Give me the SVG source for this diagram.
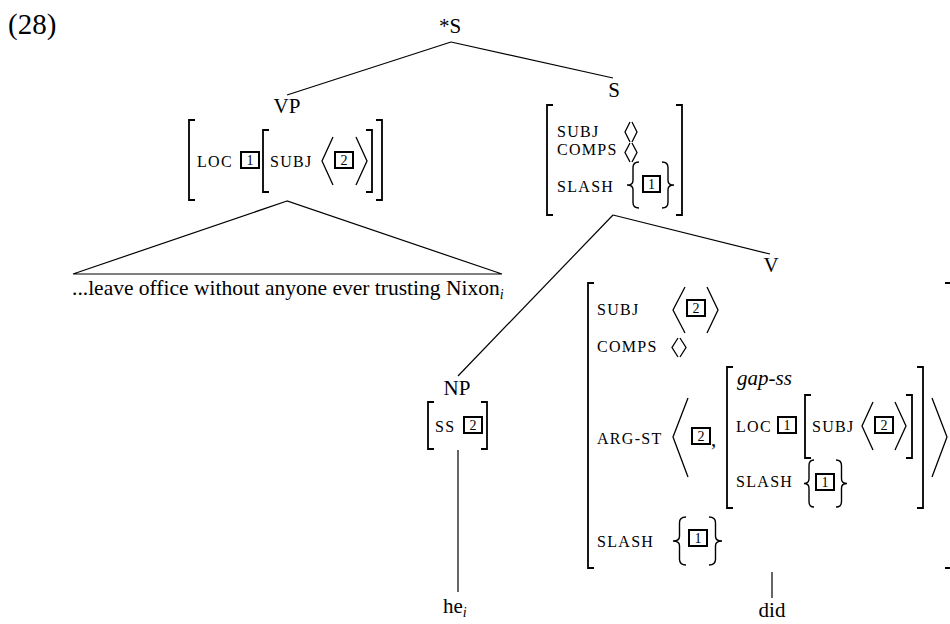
<svg xmlns="http://www.w3.org/2000/svg" width="950" height="624" viewBox="0 0 950 624">
<style>
  text { font-family: "Liberation Serif", "Times New Roman", serif; fill: #000; }
  .lbl { font-size: 21px; }
  .yield { font-size: 21.5px; }
  .lblm { font-size: 21px; text-anchor: middle; }
  .ex { font-size: 29px; }
  .sc { font-size: 16px; letter-spacing: 1.3px; }
  .it { font-size: 21px; font-style: italic; }
  .sub { font-size: 14px; font-style: italic; }
  .num { font-size: 14px; text-anchor: middle; }
  .box { fill: #fff; stroke: #000; stroke-width: 2; }
  .br { fill: none; stroke: #000; stroke-width: 1.8; }
  .ang { fill: none; stroke: #000; stroke-width: 1.3; }
  .brace { fill: none; stroke: #000; stroke-width: 1.4; }
  .edge { fill: none; stroke: #000; stroke-width: 1.2; }
</style>
<rect width="950" height="624" fill="#fff"/>

<text id="ex-num" class="ex" x="8" y="34">(28)</text>

<g id="connectors">
  <line class="edge" x1="451" y1="42" x2="287" y2="95"/>
  <line class="edge" x1="451" y1="42" x2="613" y2="78"/>
  <polygon class="edge" points="287,201 73,274 502,274"/>
  <line class="edge" x1="613" y1="215" x2="458" y2="376"/>
  <line class="edge" x1="613" y1="215" x2="770" y2="254"/>
  <line class="edge" x1="458" y1="450" x2="458" y2="592"/>
  <line class="edge" x1="772" y1="572" x2="772" y2="598"/>
</g>

<g id="node-root">
  <text class="lblm" x="450" y="33">*S</text>
</g>

<g id="node-vp">
  <text class="lblm" x="287" y="113">VP</text>
  <path class="br" d="M195 120 H189 V200 H195"/>
  <path class="br" d="M376 120 H382 V200 H376"/>
  <text class="sc" x="197" y="167">LOC</text>
  <rect class="box" x="241" y="152" width="18" height="16"/>
  <text class="num" x="250" y="165">1</text>
  <path class="br" d="M269 130 H263 V192 H269"/>
  <path class="br" d="M366 130 H372 V192 H366"/>
  <text class="sc" x="270" y="167">SUBJ</text>
  <polyline class="ang" points="333,137 322,161 333,185"/>
  <rect class="box" x="335" y="152" width="18" height="16"/>
  <text class="num" x="344" y="165">2</text>
  <polyline class="ang" points="356,137 367,161 356,185"/>
</g>

<g id="node-vp-yield">
  <text class="yield" x="72" y="295">...leave office without anyone ever trusting Nixon<tspan class="sub" dy="4">i</tspan></text>
</g>

<g id="node-s">
  <text class="lblm" x="614" y="97">S</text>
  <path class="br" d="M553 105 H547 V215 H553"/>
  <path class="br" d="M676 105 H682 V215 H676"/>
  <text class="sc" x="557" y="137">SUBJ</text>
  <polyline class="ang" points="630,122 625,132 630,142"/>
  <polyline class="ang" points="632,122 637,132 632,142"/>
  <text class="sc" x="557" y="155">COMPS</text>
  <polyline class="ang" points="630,143 625,152.5 630,162"/>
  <polyline class="ang" points="632,143 637,152.5 632,162"/>
  <text class="sc" x="557" y="192">SLASH</text>
  <path class="brace" d="M639 162 Q633 162 633 167.5 L633 180.4 Q633 185 627 185 Q633 185 633 189.6 L633 202.5 Q633 208 639 208"/>
  <rect class="box" x="643" y="176" width="17" height="16"/>
  <text class="num" x="651.5" y="189">1</text>
  <path class="brace" d="M662 162 Q668 162 668 167.5 L668 180.4 Q668 185 674 185 Q668 185 668 189.6 L668 202.5 Q668 208 662 208"/>
</g>

<g id="node-np">
  <text class="lblm" x="457" y="395">NP</text>
  <path class="br" d="M434 402 H428 V449 H434"/>
  <path class="br" d="M481 402 H487 V449 H481"/>
  <text class="sc" x="435" y="432">SS</text>
  <rect class="box" x="464" y="417" width="18" height="16"/>
  <text class="num" x="473" y="430">2</text>
</g>

<g id="node-he">
  <text class="lbl" x="443" y="613">he<tspan class="sub" dy="4">i</tspan></text>
</g>

<g id="node-v">
  <text class="lblm" x="771" y="272">V</text>
  <path class="br" d="M594 283 H588 V568 H594"/>
  <path class="br" d="M945 283 H953 V568 H945"/>
  <text class="sc" x="597" y="315">SUBJ</text>
  <polyline class="ang" points="685,287 673,310 685,333"/>
  <rect class="box" x="687" y="300" width="18" height="16"/>
  <text class="num" x="696" y="313">2</text>
  <polyline class="ang" points="707,287 718,310 707,333"/>
  <text class="sc" x="597" y="352">COMPS</text>
  <polyline class="ang" points="678,338 672,347.5 678,357"/>
  <polyline class="ang" points="680,338 686,347.5 680,357"/>
  <text class="sc" x="597" y="444">ARG-ST</text>
  <polyline class="ang" points="688,398 673,437 688,477"/>
  <rect class="box" x="692" y="428" width="18" height="16"/>
  <text class="num" x="701" y="441">2</text>
  <text class="lbl" x="711" y="446">,</text>
  <path class="br" d="M733 367 H727 V508 H733"/>
  <path class="br" d="M917 367 H923 V508 H917"/>
  <text class="it" x="737" y="385">gap-ss</text>
  <text class="sc" x="736" y="432">LOC</text>
  <rect class="box" x="778" y="417" width="18" height="16"/>
  <text class="num" x="787" y="430">1</text>
  <path class="br" d="M811 395 H805 V458 H811"/>
  <path class="br" d="M906 395 H912 V458 H906"/>
  <text class="sc" x="812" y="432">SUBJ</text>
  <polyline class="ang" points="873,402 862,426 873,450"/>
  <rect class="box" x="875" y="417" width="18" height="16"/>
  <text class="num" x="884" y="430">2</text>
  <polyline class="ang" points="895,402 906,426 895,450"/>
  <text class="sc" x="736" y="487">SLASH</text>
  <path class="brace" d="M814 460 Q809 460 809 465.6 L809 478.8 Q809 483.5 804 483.5 Q809 483.5 809 488.2 L809 501.4 Q809 507 814 507"/>
  <rect class="box" x="816" y="474" width="18" height="16"/>
  <text class="num" x="825" y="487">1</text>
  <path class="brace" d="M836 460 Q841.5 460 841.5 465.6 L841.5 478.8 Q841.5 483.5 847 483.5 Q841.5 483.5 841.5 488.2 L841.5 501.4 Q841.5 507 836 507"/>
  <polyline class="ang" points="932,398 947,437 932,477"/>
  <text class="sc" x="597" y="547">SLASH</text>
  <path class="brace" d="M686 517 Q679.5 517 679.5 522.8 L679.5 536.2 Q679.5 541 673 541 Q679.5 541 679.5 545.8 L679.5 559.2 Q679.5 565 686 565"/>
  <rect class="box" x="689" y="530" width="18" height="16"/>
  <text class="num" x="698" y="543">1</text>
  <path class="brace" d="M709 517 Q715.5 517 715.5 522.8 L715.5 536.2 Q715.5 541 722 541 Q715.5 541 715.5 545.8 L715.5 559.2 Q715.5 565 709 565"/>
</g>

<g id="node-did">
  <text class="lblm" x="772" y="617">did</text>
</g>
</svg>
